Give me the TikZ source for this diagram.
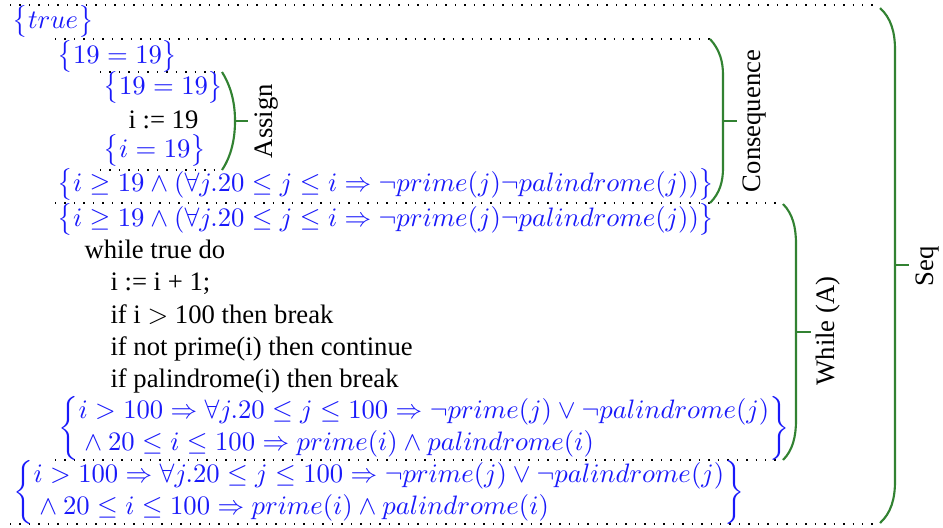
\documentclass[tikz,border=0pt]{standalone}
\usepackage{fontspec}
\setmainfont{Liberation Serif}
\definecolor{pblue}{RGB}{25,25,250}
\definecolor{bgreen}{RGB}{50,130,50}
\begin{document}
\begin{tikzpicture}[x=0.375pt,y=-0.375pt,
  pre/.style={inner sep=0pt,anchor=base west,text=pblue},
  pretwo/.style={inner sep=0pt,anchor=west,text=pblue},
  code/.style={inner sep=0pt,anchor=base west,text=black},
  dotline/.style={draw=black,line width=0.55pt,dash pattern=on 0.55pt off 3pt},
  brc/.style={draw=bgreen,line width=0.8pt},
  lbl/.style={inner sep=0pt,rotate=90,text=black}]
\useasboundingbox (0,0) rectangle (943,527);
% dotted separators
\coordinate (d1a) at (10,5);   \coordinate (d1b) at (880,5);
\coordinate (d2a) at (55,39);  \coordinate (d2b) at (710,39);
\coordinate (d3a) at (100,72); \coordinate (d3b) at (222,72);
\coordinate (d4a) at (100,170);\coordinate (d4b) at (222,170);
\coordinate (d5a) at (55,203); \coordinate (d5b) at (783,203);
\coordinate (d6a) at (55,460); \coordinate (d6b) at (783,460);
\coordinate (d7a) at (10,524); \coordinate (d7b) at (880,524);
\foreach \i in {1,...,7} {\draw[dotline] (d\i a) -- (d\i b);}
% assertions and code
\node[pre] (t1) at (12,28) {$\bigl\{true\bigr\}$};
\node[pre] (t2) at (57,63) {$\bigl\{19=19\bigr\}$};
\node[pre] (t3) at (103,94) {$\bigl\{19=19\bigr\}$};
\node[code] (t4) at (128,128) {i := 19};
\node[pre] (t5) at (103,157) {$\bigl\{i=19\bigr\}$};
\node[pre] (t6) at (57,191) {$\bigl\{i\geq 19\wedge(\forall j.20\leq j\leq i\Rightarrow\neg prime(j)\neg palindrome(j))\bigr\}$};
\node[pre] (t7) at (57,226) {$\bigl\{i\geq 19\wedge(\forall j.20\leq j\leq i\Rightarrow\neg prime(j)\neg palindrome(j))\bigr\}$};
\node[code] (c1) at (84,258) {while true do};
\node[code] (c2) at (110,290) {i := i + 1;};
\node[code] (c3) at (110,323) {if i $>$ 100 then break};
\node[code] (c4) at (110,355) {if not prime(i) then continue};
\node[code] (c5) at (110,387) {if palindrome(i) then break};
\node[pretwo] (t8) at (58,428) {$\biggl\{\begin{array}{@{}l@{}}i>100\Rightarrow\forall j.20\leq j\leq 100\Rightarrow\neg prime(j)\vee\neg palindrome(j)\\ {}\wedge 20\leq i\leq 100\Rightarrow prime(i)\wedge palindrome(i)\end{array}\biggr\}$};
\node[pretwo] (t9) at (13,492) {$\biggl\{\begin{array}{@{}l@{}}i>100\Rightarrow\forall j.20\leq j\leq 100\Rightarrow\neg prime(j)\vee\neg palindrome(j)\\ {}\wedge 20\leq i\leq 100\Rightarrow prime(i)\wedge palindrome(i)\end{array}\biggr\}$};
% Assign brace
\draw[brc] (d3b) .. controls (232,88) and (235,105) .. (235,121) coordinate (am) .. controls (235,137) and (232,155) .. (d4b);
\draw[brc] (am) -- ++(13,0) coordinate (at);
\node[lbl] (la) at (267,121) {Assign};
% Consequence brace
\draw[brc] (d2b) .. controls (720,50) and (723,62) .. (723,75) -- (723,168) .. controls (723,181) and (720,193) .. (710,203);
\coordinate (cm) at (723,121);
\draw[brc] (cm) -- ++(14,0);
\node[lbl] (lc) at (754,121) {Consequence};
% While brace
\draw[brc] (783,204) .. controls (793,214) and (796,228) .. (796,244) -- (796,420) .. controls (796,436) and (793,450) .. (d6b);
\coordinate (wm) at (796,332);
\draw[brc] (wm) -- ++(15,0);
\node[lbl] (lw) at (828,331) {While (A)};
% Seq brace
\draw[brc] (880,8) .. controls (891,18) and (895,32) .. (895,50) -- (895,481) .. controls (895,499) and (891,513) .. (880,523);
\coordinate (sm) at (895,265);
\draw[brc] (sm) -- ++(14,0);
\node[lbl] (ls) at (927,266) {Seq};
\end{tikzpicture}
\end{document}
